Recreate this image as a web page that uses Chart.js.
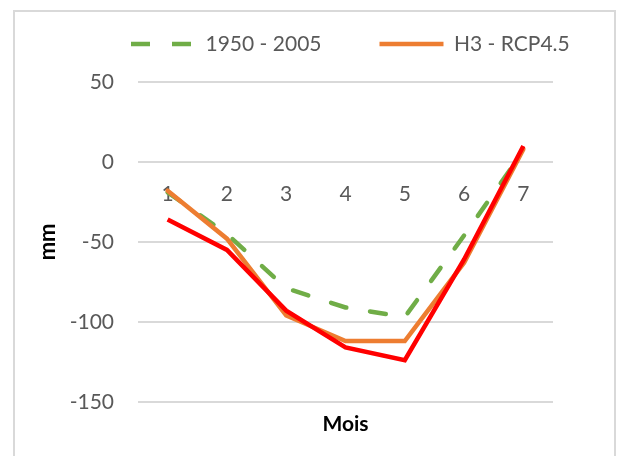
<!DOCTYPE html>
<html>
<head>
<meta charset="utf-8">
<script src="https://cdn.jsdelivr.net/npm/chart.js@4.4.1/dist/chart.umd.min.js"></script>
<style>
  body { margin: 0; background: #fff; }
  #frame { position: absolute; left: 13px; top: 10px; width: 603px; height: 500px; box-sizing: border-box; border: 2px solid #d9d9d9; }
  #moodChart { position: absolute; left: 0; top: 0; }
</style>
</head>
<body>
<div id="frame"></div>
<canvas id="moodChart" width="618" height="456"></canvas>
<script>
// Months on the x axis
const months = ['1', '2', '3', '4', '5', '6', '7'];

// Series values (mm)
const ref1950 = [-19, -45, -79, -91, -97, -46, 7];
const h3Rcp45 = [-18, -48, -96, -112, -112, -63, 8];
const h3Other = [-36, -55, -93, -116, -124, -61, 10];

// Y axis ticks
const yMin = -150;
const yMax = 50;
const yStep = 50;

const FONT = 'Lato, "Liberation Sans", sans-serif';
const GREY_TEXT = '#595959';

// Put the legend where Excel had it (room below it, shifted right)
const legendPlace = {
    id: 'legendPlace',
    beforeInit(chart) {
        const legend = chart.legend;
        const fit = legend.fit;
        legend.fit = function () {
            this.maxWidth = 900;
            fit.call(this);
            this.height = 82;
        };
    },
    afterLayout(chart) {
        const legend = chart.legend;
        const pad = legend.options.labels.padding;
        const w = legend.lineWidths[0];
        legend.right = 900;
        legend.left = 2 * 131 - pad + w - 900;
        legend.top = 44 - pad - 10.5;
    }
};

new Chart(document.getElementById('moodChart'), {
    type: 'line',
    data: {
        labels: months,
        datasets: [{
            label: '1950 - 2005',
            data: ref1950,
            borderColor: '#70ad47',
            backgroundColor: '#70ad47',
            borderWidth: 4.5,
            borderDash: [16, 24],
            borderCapStyle: 'round',
            pointRadius: 0,
            pointStyle: 'line',
            order: 3
        }, {
            label: 'H3 - RCP4.5',
            data: h3Rcp45,
            borderColor: '#ed7d31',
            backgroundColor: '#ed7d31',
            borderWidth: 4.5,
            borderCapStyle: 'round',
            pointRadius: 0,
            pointStyle: 'line',
            order: 2
        }, {
            label: 'H3 - RCP8.5',
            data: h3Other,
            borderColor: '#ff0000',
            backgroundColor: '#ff0000',
            borderWidth: 4.5,
            pointRadius: 0,
            pointStyle: 'line',
            order: 1
        }]
    },
    options: {
        responsive: false,
        animation: false,
        devicePixelRatio: 1,
        layout: { padding: { left: 0, right: 65, top: 0, bottom: 0 } },
        plugins: {
            tooltip: { enabled: false },
            legend: {
                position: 'top',
                labels: {
                    usePointStyle: true,
                    pointStyleWidth: 64,
                    padding: 58,
                    color: GREY_TEXT,
                    font: { family: FONT, size: 21 },
                    sort: (a, b) => a.datasetIndex - b.datasetIndex,
                    generateLabels(chart) {
                        const items = Chart.defaults.plugins.legend.labels.generateLabels(chart);
                        return items.filter(it => it.datasetIndex < 2).map(it => {
                            if (it.datasetIndex === 0) it.lineDash = [19, 22];
                            return it;
                        });
                    }
                }
            }
        },
        scales: {
            x: {
                type: 'category',
                position: { y: 0 },
                offset: true,
                grid: { display: false, drawTicks: false },
                border: { display: false },
                ticks: { padding: 20, color: GREY_TEXT, font: { family: FONT, size: 21 } }
            },
            x2: {
                type: 'category',
                axis: 'x',
                labels: months,
                position: 'bottom',
                offset: true,
                grid: { display: false, drawTicks: false },
                border: { display: false },
                ticks: { display: false },
                title: {
                    display: true,
                    text: 'Mois',
                    color: '#000',
                    font: { family: FONT, size: 21, weight: 'bold' },
                    padding: { top: 10, bottom: 19 }
                }
            },
            y: {
                min: yMin,
                max: yMax,
                afterFit: scale => { scale.width = 138; },
                grid: { color: '#d9d9d9', lineWidth: 2, drawTicks: false },
                border: { display: false },
                ticks: { stepSize: yStep, padding: 24, color: GREY_TEXT, font: { family: FONT, size: 21 } },
                title: {
                    display: true,
                    text: 'mm',
                    color: '#000',
                    font: { family: FONT, size: 22, weight: 'bold' },
                    padding: { top: 35, bottom: 0 }
                }
            }
        }
    },
    plugins: [legendPlace]
});
</script>
</body>
</html>
